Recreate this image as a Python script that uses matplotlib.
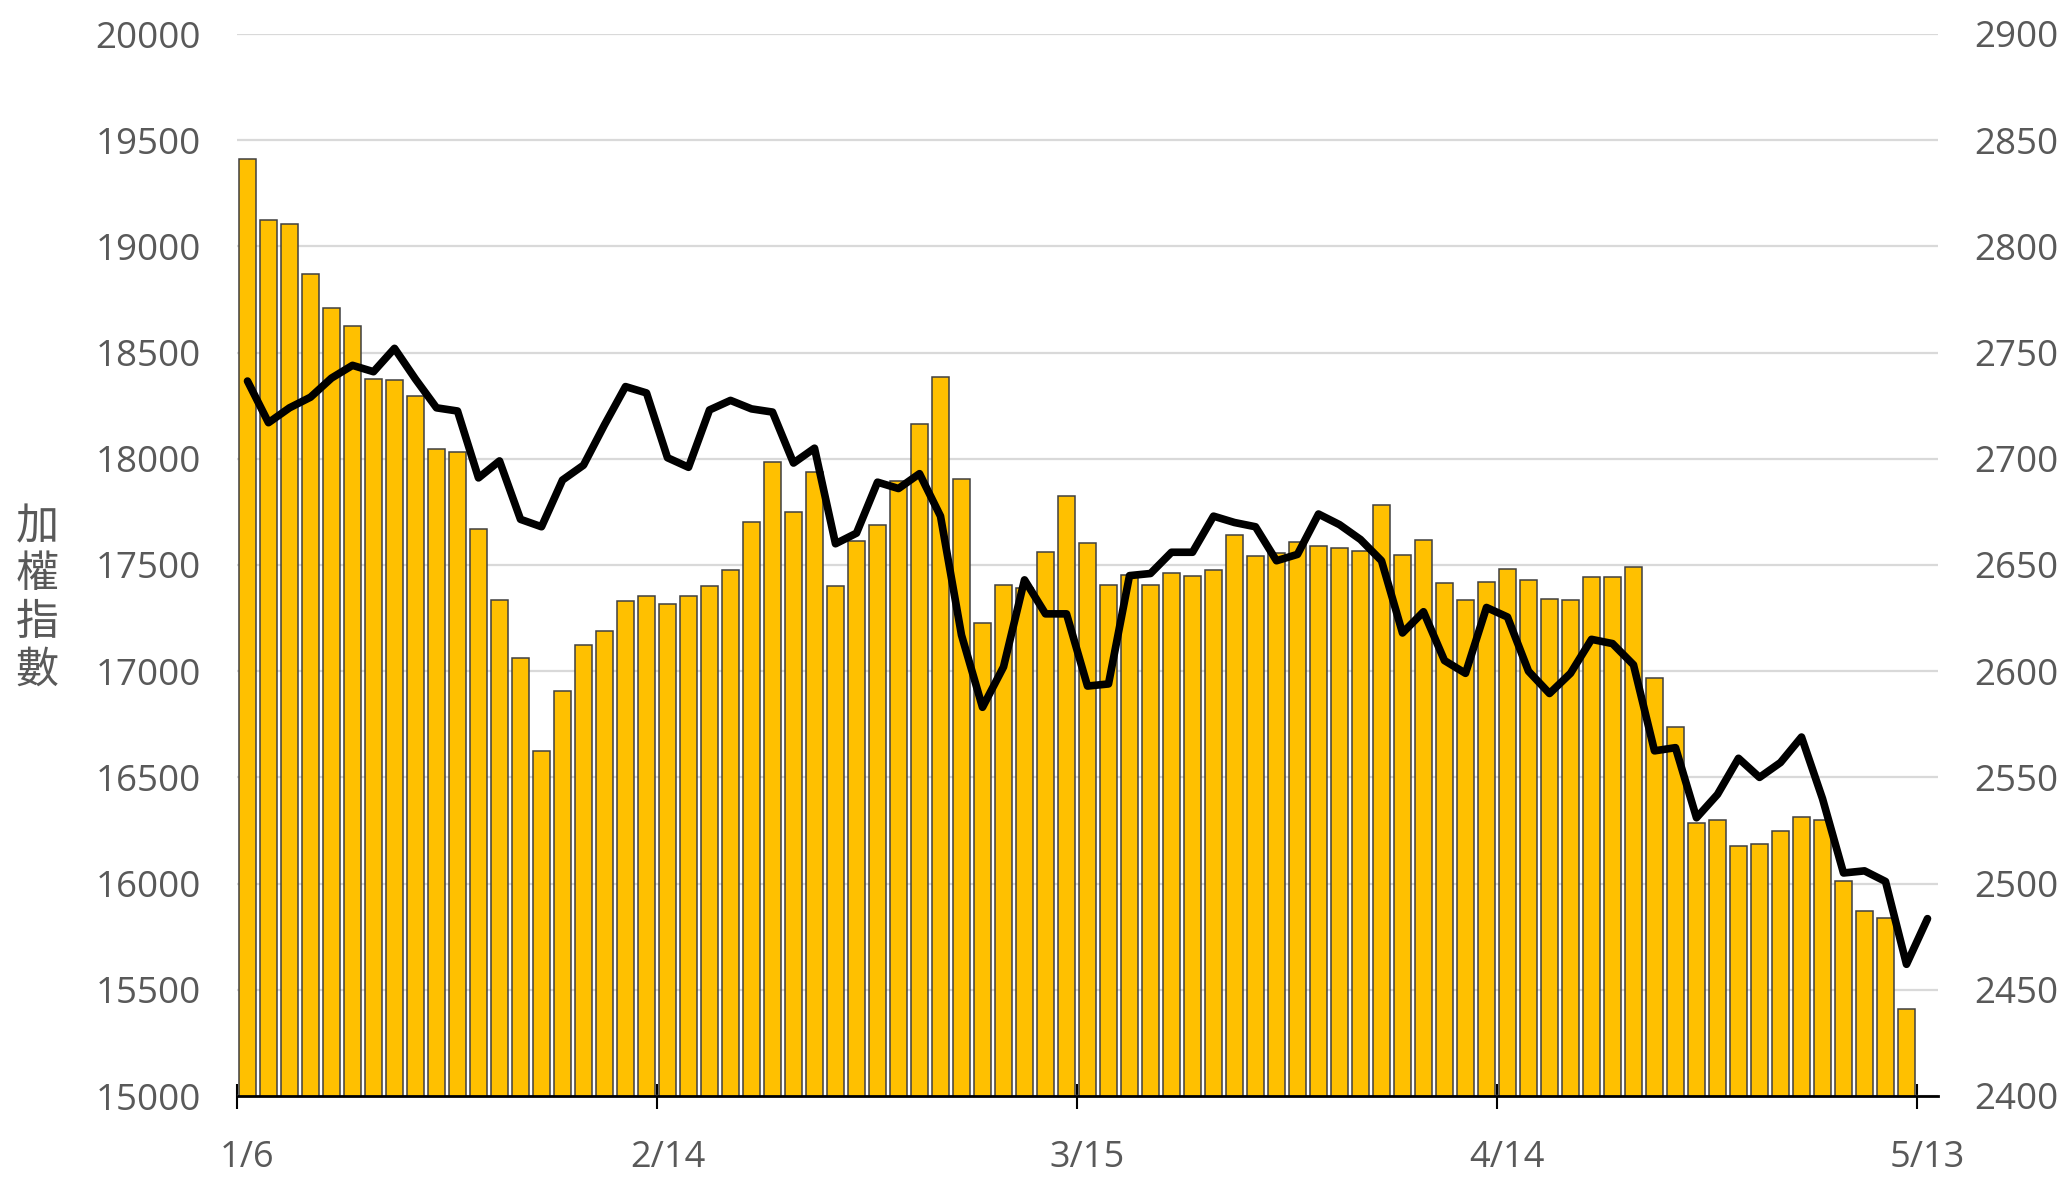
import numpy as np
import matplotlib
matplotlib.use("Agg")
import matplotlib.pyplot as plt

# bar series (left axis), one value per trading day; last day has no bar
bar_vals = [19413, 19125, 19107, 18870, 18711, 18624, 18375, 18372, 18297, 18048,
            18033, 17670, 17337, 17061, 16623, 16905, 17121, 17187, 17331, 17352,
            17315, 17356, 17401, 17478, 17702, 17986, 17750, 17937, 17401, 17615,
            17690, 17897, 18166, 18387, 17906, 17228, 17404, 17392, 17560, 17827,
            17602, 17406, 17455, 17408, 17461, 17447, 17478, 17643, 17541, 17555,
            17606, 17588, 17580, 17565, 17782, 17545, 17616, 17414, 17335, 17421,
            17483, 17430, 17341, 17337, 17443, 17443, 17489, 16967, 16738, 16283,
            16298, 16179, 16185, 16249, 16313, 16300, 16011, 15869, 15837, 15410]

# line series (right axis)
line_vals = [2736.6, 2717, 2724, 2729, 2738, 2744, 2741, 2752, 2737.5, 2724,
             2722.5, 2691, 2699, 2671.5, 2668, 2690, 2697, 2716, 2734, 2731,
             2700.5, 2696, 2723, 2727.5, 2723.5, 2722, 2698, 2705, 2660, 2665,
             2689, 2686, 2693, 2673, 2617, 2583, 2602, 2643, 2627, 2627,
             2593, 2594, 2645, 2646, 2656, 2656, 2673, 2670, 2668, 2652,
             2655, 2674, 2669, 2662, 2652, 2618, 2628, 2605, 2599, 2630,
             2625.5, 2600, 2589.5, 2599, 2615, 2613, 2603, 2562.5, 2564, 2531,
             2542, 2559, 2550, 2557, 2569, 2540, 2505, 2506, 2501, 2462,
             2483.5]

tick_labels = ["1/6", "2/14", "3/15", "4/14", "5/13"]
tick_idx = [0, 20, 40, 60, 80]

gray = "#595959"
plt.rcParams['font.family'] = ['Open Sans', 'DejaVu Sans']

fig = plt.figure(figsize=(20.66, 11.77), dpi=100)
ax = fig.add_axes([237/2066, 1 - 1096/1177, (1938 - 237)/2066, (1096 - 34)/1177])

n = len(line_vals)
x_bar = np.arange(len(bar_vals))
x_line = np.arange(n)

ax.bar(x_bar, bar_vals, width=0.82, color="#FFC000", edgecolor="#404040",
       linewidth=1.1, zorder=2)
ax.set_xlim(-0.5, n - 0.5)
ax.set_ylim(15000, 20000)
ax.set_yticks(np.arange(15000, 20001, 500))
ax.grid(axis='y', color="#D9D9D9", linewidth=1.6, zorder=0)
ax.set_axisbelow(True)

for s in ['top', 'right', 'left']:
    ax.spines[s].set_visible(False)
ax.spines['bottom'].set_linewidth(2)
ax.spines['bottom'].set_zorder(3)

ax.set_xticks([i - 0.5 for i in tick_idx[:-1]] + [79.5])
ax.set_xticklabels([])
ax.tick_params(axis='x', direction='inout', length=18, width=1.5, color='black')
ax.tick_params(axis='y', length=0, labelsize=26.5, labelcolor=gray, pad=26)

# category labels centered under their day
for i, lab in zip(tick_idx, tick_labels):
    ax.annotate(lab, xy=(i, 0), xycoords=('data', 'axes fraction'),
                xytext=(0, -44), textcoords='offset pixels',
                ha='center', va='top', fontsize=26, color=gray)

ax2 = ax.twinx()
ax2.plot(x_line, line_vals, color='black', linewidth=5.5,
         solid_joinstyle='round', solid_capstyle='round', zorder=4)
ax2.set_ylim(2400, 2900)
ax2.set_yticks(np.arange(2400, 2901, 50))
for s in ['top', 'right', 'left', 'bottom']:
    ax2.spines[s].set_visible(False)
ax2.tick_params(axis='y', length=0, labelsize=26.5, labelcolor=gray, pad=26)

fig.text(37/2066, 1 - 599/1177, "加\n權\n指\n數", ha='center', va='center',
         fontsize=31, color=gray, linespacing=1.12,
         family=['Noto Sans CJK TC', 'DejaVu Sans'])

fig.savefig("out.png", dpi=100)
